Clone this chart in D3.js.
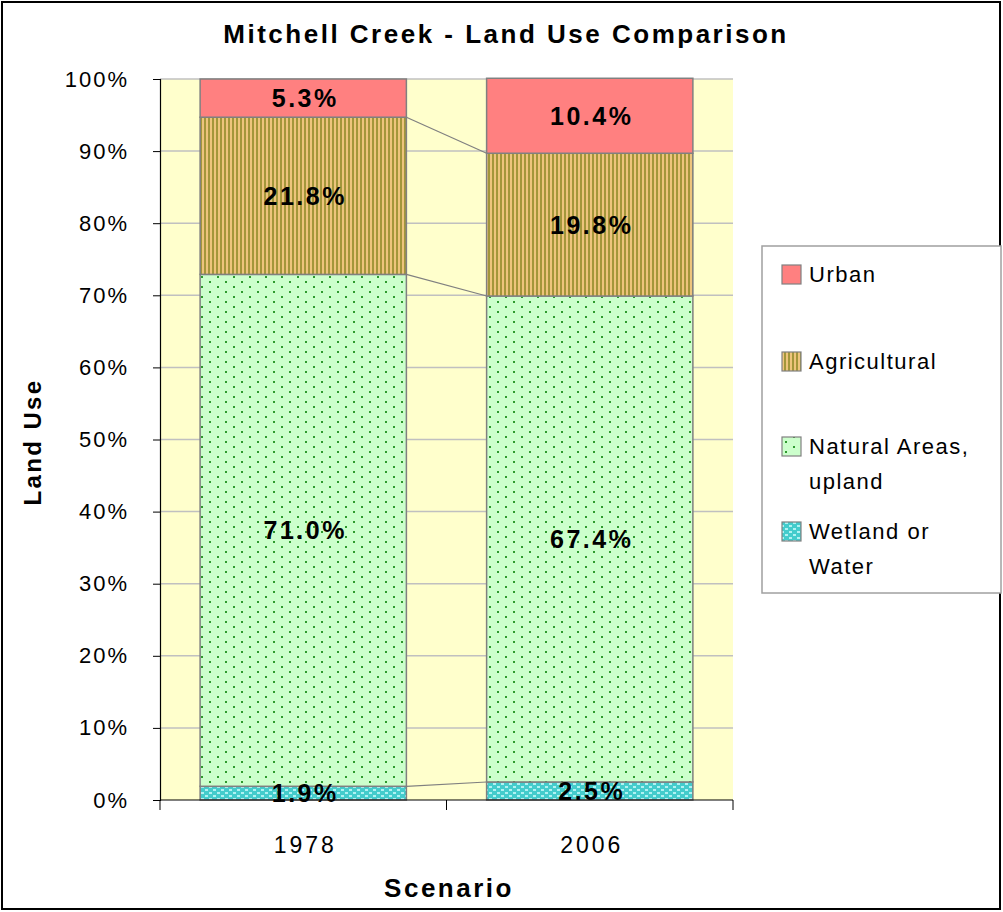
<!DOCTYPE html>
<html>
<head>
<meta charset="utf-8">
<script src="https://cdn.jsdelivr.net/npm/d3@7"></script>
<style>
  body { margin: 0; background: #fff; }
  svg text { font-family: "Liberation Sans", Arial, sans-serif; }
</style>
</head>
<body>
<svg id="chart" width="1003" height="912"></svg>
<script>
var years = ["1978", "2006"];
var seriesNames = ["Wetland or Water", "Natural Areas, upland", "Agricultural", "Urban"];
var wetland = [1.9, 2.5];
var natural = [71.0, 67.4];
var agricultural = [21.8, 19.8];
var urban = [5.3, 10.4];
var yTicks = [0, 10, 20, 30, 40, 50, 60, 70, 80, 90, 100];

var meta = {};
meta.left = 160; meta.right = 733; meta.top = 79; meta.bottom = 800;

var svg = d3.select("#chart");
var defs = svg.append("defs");

// patterns like the Excel fills
var p = defs.append("pattern").attr("id", "pAgri").attr("patternUnits", "userSpaceOnUse")
    .attr("width", 4).attr("height", 4);
p.append("rect").attr("width", 4).attr("height", 4).attr("fill", "#A3963A");
p.append("rect").attr("x", 2).attr("width", 2).attr("height", 4).attr("fill", "#EDC47C");

p = defs.append("pattern").attr("id", "pNat").attr("patternUnits", "userSpaceOnUse")
    .attr("width", 16).attr("height", 10);
p.append("rect").attr("width", 16).attr("height", 10).attr("fill", "#CCFFCC");
p.append("rect").attr("x", 1).attr("y", 1).attr("width", 2).attr("height", 2).attr("fill", "#2E9A2E");
p.append("rect").attr("x", 9).attr("y", 6).attr("width", 2).attr("height", 2).attr("fill", "#2E9A2E");

p = defs.append("pattern").attr("id", "pWet").attr("patternUnits", "userSpaceOnUse")
    .attr("width", 8).attr("height", 6);
p.append("rect").attr("width", 8).attr("height", 6).attr("fill", "#44CCCC");
p.append("rect").attr("x", 1).attr("y", 0).attr("width", 3).attr("height", 2).attr("fill", "#B0F2F2");
p.append("rect").attr("x", 5).attr("y", 3).attr("width", 3).attr("height", 2).attr("fill", "#B0F2F2");

var fills = ["url(#pWet)", "url(#pNat)", "url(#pAgri)", "#FF8080"];

// outer border
svg.append("rect").attr("x", 2).attr("y", 2).attr("width", 998).attr("height", 907)
    .attr("fill", "#fff").attr("stroke", "#000").attr("stroke-width", 2);

var xScale = d3.scaleBand().domain(years).range([meta.left, meta.right])
    .paddingInner(0.28).paddingOuter(0.14);
var yScale = d3.scaleLinear().domain([0, 100]).range([meta.bottom, meta.top]);

// plot background + grid
svg.append("rect").attr("x", meta.left).attr("y", meta.top)
    .attr("width", meta.right - meta.left).attr("height", meta.bottom - meta.top)
    .attr("fill", "#FFFFCC");
svg.append("g").selectAll("line").data(yTicks.slice(1)).enter().append("line")
    .attr("x1", meta.left).attr("x2", meta.right)
    .attr("y1", d => yScale(d)).attr("y2", d => yScale(d))
    .attr("stroke", "#C0C0C0").attr("stroke-width", 1.5);

// stacking
var table = years.map((y, i) => ({
    year: y,
    "Wetland or Water": wetland[i],
    "Natural Areas, upland": natural[i],
    "Agricultural": agricultural[i],
    "Urban": urban[i]
}));
var stacked = d3.stack().keys(seriesNames)(table);

// series lines between bars
var gLines = svg.append("g");
stacked.forEach(function(s) {
    if (s.key == "Urban") return;
    gLines.append("line")
        .attr("x1", xScale(years[0]) + xScale.bandwidth())
        .attr("x2", xScale(years[1]))
        .attr("y1", yScale(s[0][1])).attr("y2", yScale(s[1][1]))
        .attr("stroke", "#808080").attr("stroke-width", 1.2);
});

var gBars = svg.append("g");
stacked.forEach(function(s, k) {
    gBars.selectAll(null).data(s).enter().append("rect")
        .attr("x", d => xScale(d.data.year))
        .attr("y", d => yScale(d[1]))
        .attr("width", xScale.bandwidth())
        .attr("height", d => yScale(d[0]) - yScale(d[1]))
        .attr("fill", fills[k])
        .attr("stroke", "#808080").attr("stroke-width", 1.5);
});

// axes
var yAxis = svg.append("g").attr("transform", `translate(${meta.left},0)`)
    .call(d3.axisLeft(yScale).tickValues(yTicks).tickFormat(d => d + "%").tickSize(7).tickPadding(24));
yAxis.select(".domain").attr("stroke", "#000").attr("stroke-width", 1.2);
yAxis.selectAll(".tick line").attr("stroke", "#000");
yAxis.selectAll(".tick text").attr("font-size", 22).attr("fill", "#000")
    .attr("letter-spacing", 2)
    .attr("font-family", "'Liberation Sans', Arial, sans-serif");

var xAx = svg.append("g");
xAx.append("line").attr("x1", meta.left).attr("x2", meta.right)
    .attr("y1", meta.bottom).attr("y2", meta.bottom).attr("stroke", "#000").attr("stroke-width", 1.2);
var bounds = [meta.left, (meta.left + meta.right) / 2, meta.right];
xAx.selectAll(".tk").data(bounds).enter().append("line")
    .attr("x1", d => d).attr("x2", d => d)
    .attr("y1", meta.bottom).attr("y2", meta.bottom + 10).attr("stroke", "#000");
xAx.selectAll("text").data(years).enter().append("text")
    .attr("x", d => xScale(d) + xScale.bandwidth() / 2 + 2)
    .attr("y", 853).attr("text-anchor", "middle").attr("font-size", 23)
    .attr("letter-spacing", 3)
    .text(d => d);

// value labels
var gLab = svg.append("g");
stacked.forEach(function(s) {
    gLab.selectAll(null).data(s).enter().append("text")
        .attr("x", d => xScale(d.data.year) + xScale.bandwidth() / 2 + 2)
        .attr("y", d => (yScale(d[0]) + yScale(d[1])) / 2 + 9)
        .attr("text-anchor", "middle").attr("font-size", 25).attr("font-weight", "bold")
        .attr("letter-spacing", 2.5)
        .text(d => (d[1] - d[0]).toFixed(1) + "%");
});

// titles
svg.append("text").attr("x", 506).attr("y", 43).attr("text-anchor", "middle")
    .attr("font-size", 26).attr("font-weight", "bold").attr("letter-spacing", 2.5)
    .text("Mitchell Creek - Land Use Comparison");
svg.append("text").attr("x", 449).attr("y", 897).attr("text-anchor", "middle")
    .attr("font-size", 26).attr("font-weight", "bold").attr("letter-spacing", 2.5)
    .text("Scenario");
svg.append("text").attr("transform", "translate(41,442) rotate(-90)").attr("text-anchor", "middle")
    .attr("font-size", 24).attr("font-weight", "bold").attr("letter-spacing", 2.4)
    .text("Land Use");

// legend
var legend = svg.append("g");
legend.append("rect").attr("x", 762).attr("y", 246).attr("width", 239).attr("height", 347)
    .attr("fill", "#fff").attr("stroke", "#A0A0A0").attr("stroke-width", 1.5);
var legendItems = [
    {lines: ["Urban"], fill: fills[3], y: 272},
    {lines: ["Agricultural"], fill: fills[2], y: 359},
    {lines: ["Natural Areas,", "upland"], fill: fills[1], y: 444},
    {lines: ["Wetland or", "Water"], fill: fills[0], y: 529}
];
legendItems.forEach(function(it) {
    legend.append("rect").attr("x", 782).attr("y", it.y - 7).attr("width", 19).attr("height", 19)
        .attr("fill", it.fill).attr("stroke", "#808080").attr("stroke-width", 1.2);
    var t = legend.append("text").attr("x", 809).attr("y", it.y + 10).attr("font-size", 22)
        .attr("letter-spacing", 1.5);
    it.lines.forEach(function(l, i) {
        t.append("tspan").attr("x", 809).attr("dy", i == 0 ? 0 : 35).text(l);
    });
});
</script>
</body>
</html>
